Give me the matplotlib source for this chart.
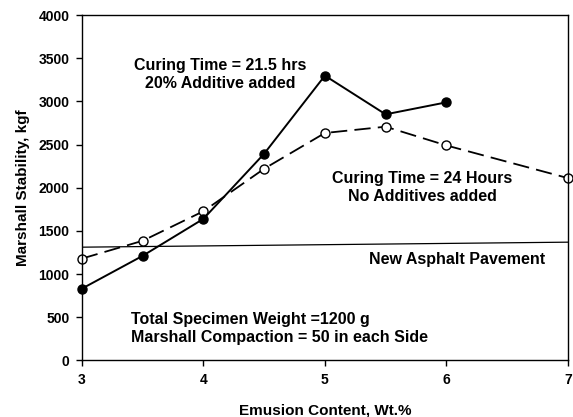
import matplotlib
matplotlib.use('Agg')
import matplotlib.pyplot as plt

plt.rcParams['font.family'] = ['Liberation Sans', 'DejaVu Sans']
plt.rcParams['font.weight'] = 'bold'

# emulsion content, wt.%
x_additive = [3, 3.5, 4, 4.5, 5, 5.5, 6]
y_additive = [832, 1212, 1640, 2394, 3298, 2850, 2989]

x_none = [3, 3.5, 4, 4.5, 5, 5.5, 6, 7]
y_none = [1180, 1386, 1728, 2220, 2634, 2707, 2490, 2112]

# new asphalt pavement reference line
x_ref = [3, 7]
y_ref = [1312, 1370]

fig = plt.figure(figsize=(5.73, 4.17), dpi=100)
ax = fig.add_axes([0.143, 0.1355, 0.848, 0.8285])

ax.plot(x_ref, y_ref, color='black', lw=0.9)
ax.plot(x_none, y_none, color='black', lw=1.3, dashes=(9, 4),
        marker='o', ms=6.5, mfc='white', mec='black', mew=1.0, clip_on=False)
ax.plot(x_additive, y_additive, color='black', lw=1.4,
        marker='o', ms=6.5, mfc='black', mec='black', clip_on=False)

ax.set_xlim(3, 7)
ax.set_ylim(0, 4000)
ax.set_xticks([3, 4, 5, 6, 7])
ax.set_yticks(range(0, 4001, 500))
ax.tick_params(direction='out', length=4, width=1, labelsize=10, pad=5)
for lab in ax.get_xticklabels() + ax.get_yticklabels():
    lab.set_fontweight('bold')
for s in ax.spines.values():
    s.set_linewidth(1.0)

ax.set_xlabel('Emusion Content, Wt.%', fontsize=11, fontweight='bold', labelpad=12)
ax.set_ylabel('Marshall Stability, kgf', fontsize=11, fontweight='bold', labelpad=6)

ax.text(4.14, 3316, 'Curing Time = 21.5 hrs\n20% Additive added', ha='center',
        va='center', fontsize=11.5, fontweight='bold', linespacing=1.25)
ax.text(5.80, 2000, 'Curing Time = 24 Hours\nNo Additives added', ha='center',
        va='center', fontsize=11.5, fontweight='bold', linespacing=1.25)
ax.text(6.09, 1165, 'New Asphalt Pavement', ha='center', va='center',
        fontsize=11.5, fontweight='bold')
ax.text(3.40, 371, 'Total Specimen Weight =1200 g\nMarshall Compaction = 50 in each Side',
        ha='left', va='center', fontsize=11.5, fontweight='bold', linespacing=1.25)

fig.savefig('out.png', dpi=100)
